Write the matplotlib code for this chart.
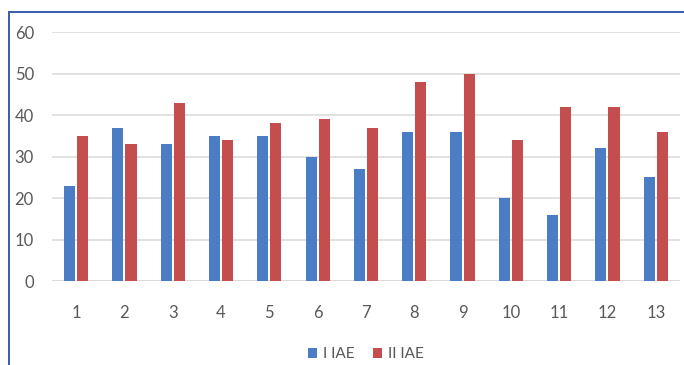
import numpy as np
import matplotlib.pyplot as plt
from matplotlib.lines import Line2D

categories = ['1', '2', '3', '4', '5', '6', '7', '8', '9', '10', '11', '12', '13']
iae_1 = [23, 37, 33, 35, 35, 30, 27, 36, 36, 20, 16, 32, 25]
iae_2 = [35, 33, 43, 34, 38, 39, 37, 48, 50, 34, 42, 42, 36]
series_names = ['I IAE', 'II IAE']

blue = '#4a7dc4'
red = '#c44e4e'
grey_txt = '#595959'

plt.rcParams['font.family'] = ['Lato', 'DejaVu Sans']

fig = plt.figure(figsize=(6.84, 3.65), dpi=100)
ax = fig.add_axes([0.076, 0.230, 0.918, 0.682])

x = np.arange(len(categories))
w = 0.23
ax.bar(x - 0.135, iae_1, w, color=blue, label=series_names[0], zorder=3)
ax.bar(x + 0.135, iae_2, w, color=red, label=series_names[1], zorder=3)

ax.set_xlim(-0.5, len(categories) - 0.5)
ax.set_ylim(0, 60)
ax.set_yticks(range(0, 61, 10))
ax.set_xticks(x)
ax.set_xticklabels(categories)
ax.grid(axis='y', color='#dcdcdc', linewidth=1.2, zorder=0)
ax.axhline(0, color='#d9d9d9', linewidth=1.2, zorder=2)
for s in ax.spines.values():
    s.set_visible(False)
ax.tick_params(axis='both', length=0, labelsize=12, colors=grey_txt)
ax.tick_params(axis='x', pad=17)
ax.tick_params(axis='y', pad=13)

ax.legend(loc='center', bbox_to_anchor=(0.5, -0.295), ncol=2, frameon=False,
          fontsize=11, handlelength=0.6, handleheight=0.6, handletextpad=0.4,
          columnspacing=1.2, labelcolor=grey_txt)

# frame border along top and left
fig.add_artist(Line2D([9 / 684, 1], [1 - 12 / 365, 1 - 12 / 365],
                      transform=fig.transFigure, color='#3a5ba8', linewidth=1.4))
fig.add_artist(Line2D([9 / 684, 9 / 684], [0, 1 - 12 / 365],
                      transform=fig.transFigure, color='#3a5ba8', linewidth=1.4))

fig.savefig('out.png', dpi=100)
